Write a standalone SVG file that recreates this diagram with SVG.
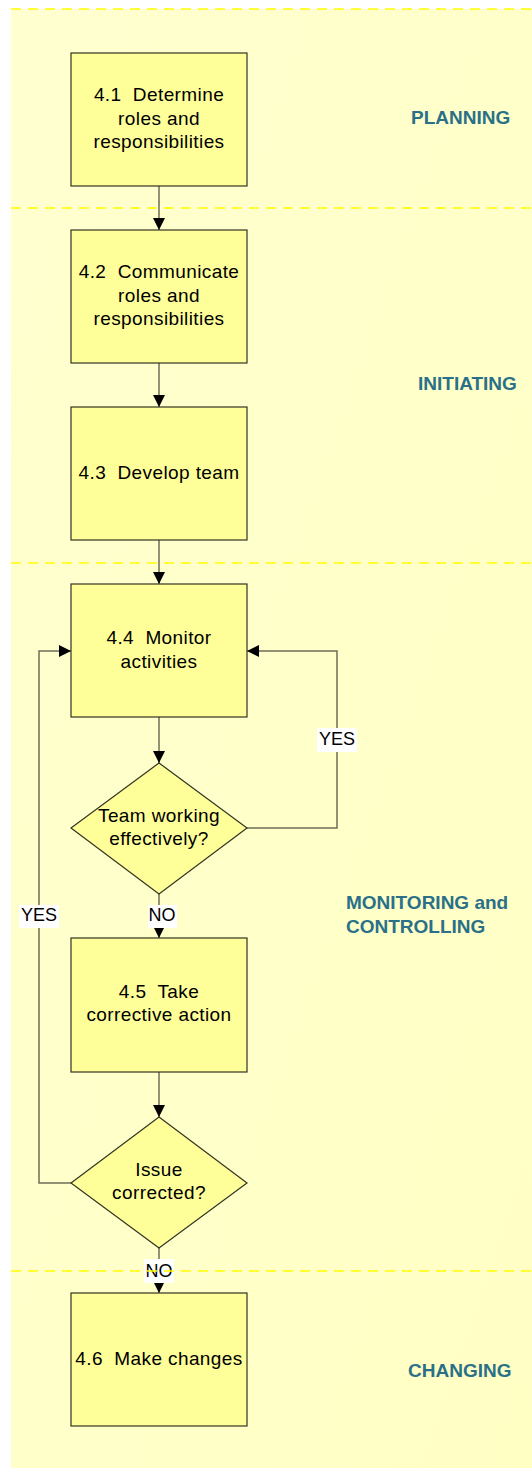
<svg xmlns="http://www.w3.org/2000/svg" width="532" height="1468" viewBox="0 0 532 1468">
<style>
.bg{fill:#FFFFCC}
.box{fill:#FFFF99;stroke:#333322;stroke-width:1.2}
.t{font-family:"Liberation Sans",Arial,sans-serif;font-size:19px;letter-spacing:0.4px;fill:#000;text-anchor:middle}
.sec{font-family:"Liberation Sans",Arial,sans-serif;font-size:19px;font-weight:bold;fill:#2A7088}
.c{fill:none;stroke:#6E6E58;stroke-width:1.5}
.lbl{font-family:"Liberation Sans",Arial,sans-serif;font-size:18px;fill:#000;text-anchor:middle}
.lb{fill:#FFFFFF}
.dash{stroke:#FFFF00;stroke-width:1.6;stroke-dasharray:10 7}
</style>
<defs>
<linearGradient id="g" x1="0" y1="0" x2="1" y2="1">
<stop offset="0" stop-color="#FFFFD0"/><stop offset="1" stop-color="#FFFFC4"/>
</linearGradient>
<linearGradient id="bx" x1="0" y1="0" x2="1" y2="1">
<stop offset="0" stop-color="#FFFFA8"/><stop offset="1" stop-color="#FFFF90"/>
</linearGradient>
<marker id="ah" markerWidth="12" markerHeight="12" refX="12" refY="6" orient="auto" markerUnits="userSpaceOnUse">
<path d="M0,0 L12,6 L0,12 Z" fill="#000"/>
</marker>
</defs>
<rect x="11" y="9" width="521" height="1459" fill="url(#g)"/>
<g id="connectors">
<path class="c" d="M159,186 V230" marker-end="url(#ah)"/>
<path class="c" d="M159,363 V407" marker-end="url(#ah)"/>
<path class="c" d="M159,540 V584" marker-end="url(#ah)"/>
<path class="c" d="M159,717 V763" marker-end="url(#ah)"/>
<path class="c" d="M247,828 H337 V651 H247" marker-end="url(#ah)"/>
<path class="c" d="M159,894 V938" marker-end="url(#ah)"/>
<path class="c" d="M159,1072 V1117" marker-end="url(#ah)"/>
<path class="c" d="M71,1183 H39 V651 H71" marker-end="url(#ah)"/>
<path class="c" d="M159,1248 V1293" marker-end="url(#ah)"/>
</g>
<g id="n41"><rect class="box" x="71" y="53" width="176" height="133" fill="url(#bx)"/>
<text class="t" x="159" y="101">4.1&#160; Determine</text><text class="t" x="159" y="125">roles and</text><text class="t" x="159" y="148">responsibilities</text></g>
<g id="n42"><rect class="box" x="71" y="230" width="176" height="133" fill="url(#bx)"/>
<text class="t" x="159" y="278">4.2&#160; Communicate</text><text class="t" x="159" y="302">roles and</text><text class="t" x="159" y="325">responsibilities</text></g>
<g id="n43"><rect class="box" x="71" y="407" width="176" height="133" fill="url(#bx)"/>
<text class="t" x="159" y="479">4.3&#160; Develop team</text></g>
<g id="n44"><rect class="box" x="71" y="584" width="176" height="133" fill="url(#bx)"/>
<text class="t" x="159" y="644">4.4&#160; Monitor</text><text class="t" x="159" y="668">activities</text></g>
<g id="d1"><polygon class="box" points="159,763 247,828 159,894 71,828" fill="url(#bx)"/>
<text class="t" x="159" y="822">Team working</text><text class="t" x="159" y="845">effectively?</text></g>
<g id="n45"><rect class="box" x="71" y="938" width="176" height="134" fill="url(#bx)"/>
<text class="t" x="159" y="998">4.5&#160; Take</text><text class="t" x="159" y="1021">corrective action</text></g>
<g id="d2"><polygon class="box" points="159,1117 247,1183 159,1248 71,1183" fill="url(#bx)"/>
<text class="t" x="159" y="1176">Issue</text><text class="t" x="159" y="1199">corrected?</text></g>
<g id="n46"><rect class="box" x="71" y="1293" width="176" height="133" fill="url(#bx)"/>
<text class="t" x="159" y="1365">4.6&#160; Make changes</text></g>
<g id="labels">
<rect class="lb" x="317" y="728" width="40" height="24"/><text class="lbl" x="337" y="745">YES</text>
<rect class="lb" x="19" y="905" width="40" height="23"/><text class="lbl" x="39" y="921">YES</text>
<rect class="lb" x="148" y="905" width="29" height="23"/><text class="lbl" x="162" y="921">NO</text>
<rect class="lb" x="144" y="1259" width="30" height="24"/><text class="lbl" x="159" y="1277">NO</text>
</g>
<g id="phases">
<text class="sec" x="411" y="124">PLANNING</text>
<text class="sec" x="418" y="390">INITIATING</text>
<text class="sec" x="346" y="909">MONITORING and</text>
<text class="sec" x="346" y="933">CONTROLLING</text>
<text class="sec" x="408" y="1377">CHANGING</text>
</g>
<g id="dividers">
<line class="dash" x1="11" y1="9" x2="532" y2="9"/>
<line class="dash" x1="11" y1="208" x2="532" y2="208"/>
<line class="dash" x1="11" y1="563" x2="532" y2="563"/>
<line class="dash" x1="11" y1="1271" x2="532" y2="1271"/>
</g>
</svg>
